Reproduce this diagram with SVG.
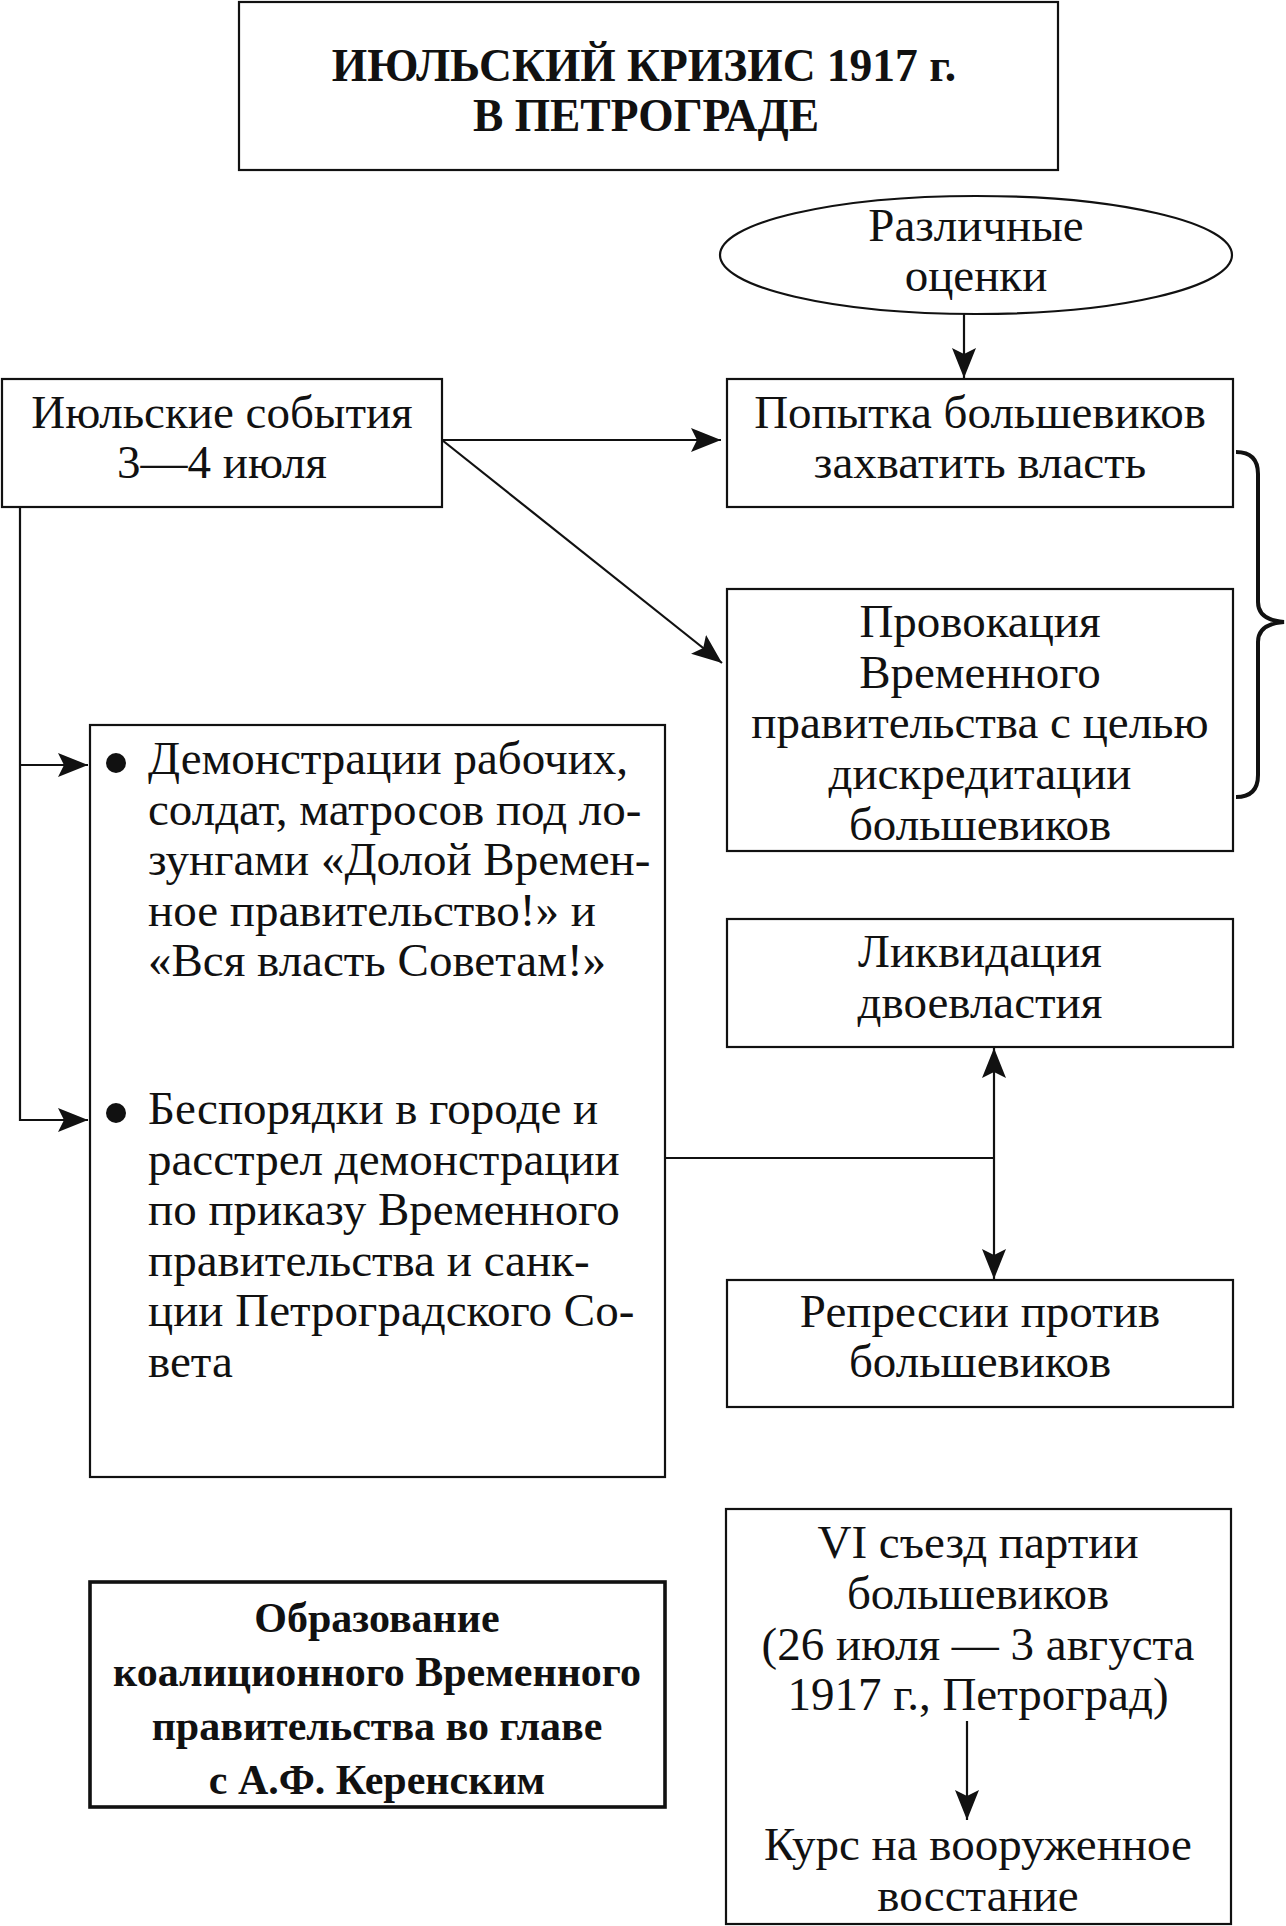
<svg xmlns="http://www.w3.org/2000/svg" width="1286" height="1926" viewBox="0 0 1286 1926">
<defs>
<style>
.box{fill:#fff;stroke:#111;stroke-width:2.2}
.bold-box{fill:#fff;stroke:#111;stroke-width:3.6}
.t{font-family:"Liberation Serif","Times New Roman",serif;font-size:47px;fill:#111}
.c{text-anchor:middle}
.b{font-family:"Liberation Serif","Times New Roman",serif;font-weight:bold;fill:#111;text-anchor:middle}
.ln{fill:none;stroke:#111;stroke-width:2.2}
</style>
<marker id="ah" markerUnits="userSpaceOnUse" markerWidth="30" markerHeight="24" refX="30" refY="12" orient="auto-start-reverse" viewBox="0 0 30 24">
<path d="M0,0 L30,12 L0,24 L6,12 z" fill="#111"/>
</marker>
</defs>
<rect x="0" y="0" width="1286" height="1926" fill="#fff"/>

<g id="title">
<rect class="box" x="239" y="2" width="819" height="168"/>
<text class="b" x="644" y="81" font-size="45.5">ИЮЛЬСКИЙ КРИЗИС 1917 г.</text>
<text class="b" x="646" y="131" font-size="45.5">В ПЕТРОГРАДЕ</text>
</g>

<g id="assessments">
<ellipse class="box" cx="976" cy="255" rx="256" ry="59" stroke-width="2.6"/>
<text class="t c" x="976" y="241">Различные</text>
<text class="t c" x="976" y="291">оценки</text>
</g>

<g id="july-events">
<rect class="box" x="2" y="379" width="440" height="128"/>
<text class="t c" x="222" y="428">Июльские события</text>
<text class="t c" x="222" y="478">3—4 июля</text>
</g>

<g id="attempt">
<rect class="box" x="727" y="379" width="506" height="128"/>
<text class="t c" x="980" y="428">Попытка большевиков</text>
<text class="t c" x="980" y="478">захватить власть</text>
</g>

<g id="provocation">
<rect class="box" x="727" y="589" width="506" height="262"/>
<text class="t c" x="980" y="637">Провокация</text>
<text class="t c" x="980" y="688">Временного</text>
<text class="t c" x="980" y="738">правительства с целью</text>
<text class="t c" x="980" y="789">дискредитации</text>
<text class="t c" x="980" y="840">большевиков</text>
</g>

<g id="brace">
<path d="M1236,452 Q1258,452 1258,474 L1258,602 Q1258,620 1284,622 Q1258,624 1258,642 L1258,775 Q1258,797 1236,797" fill="none" stroke="#111" stroke-width="4"/>
</g>

<g id="events-list">
<rect class="box" x="90" y="725" width="575" height="752"/>
<circle cx="116" cy="763" r="10" fill="#111"/>
<text class="t" x="148" y="774">Демонстрации рабочих,</text>
<text class="t" x="148" y="824.5">солдат, матросов под ло-</text>
<text class="t" x="148" y="875">зунгами «Долой Времен-</text>
<text class="t" x="148" y="925.5">ное правительство!» и</text>
<text class="t" x="148" y="976">«Вся власть Советам!»</text>
<circle cx="116" cy="1113" r="10" fill="#111"/>
<text class="t" x="148" y="1124">Беспорядки в городе и</text>
<text class="t" x="148" y="1174.5">расстрел демонстрации</text>
<text class="t" x="148" y="1225">по приказу Временного</text>
<text class="t" x="148" y="1275.5">правительства и санк-</text>
<text class="t" x="148" y="1326">ции Петроградского Со-</text>
<text class="t" x="148" y="1376.5">вета</text>
</g>

<g id="dual-power">
<rect class="box" x="727" y="919" width="506" height="128"/>
<text class="t c" x="980" y="967">Ликвидация</text>
<text class="t c" x="980" y="1018">двоевластия</text>
</g>

<g id="repressions">
<rect class="box" x="727" y="1280" width="506" height="127"/>
<text class="t c" x="980" y="1327">Репрессии против</text>
<text class="t c" x="980" y="1377">большевиков</text>
</g>

<g id="coalition">
<rect class="bold-box" x="90" y="1582" width="575" height="225"/>
<text class="b" x="377" y="1632" font-size="42">Образование</text>
<text class="b" x="377" y="1686" font-size="42">коалиционного Временного</text>
<text class="b" x="377" y="1740" font-size="42">правительства во главе</text>
<text class="b" x="377" y="1794" font-size="42">с А.Ф. Керенским</text>
</g>

<g id="congress">
<rect class="box" x="726" y="1509" width="505" height="415"/>
<text class="t c" x="978" y="1558">VI съезд партии</text>
<text class="t c" x="978" y="1609">большевиков</text>
<text class="t c" x="978" y="1660">(26 июля — 3 августа</text>
<text class="t c" x="978" y="1710">1917 г., Петроград)</text>
<text class="t c" x="978" y="1860">Курс на вооруженное</text>
<text class="t c" x="978" y="1911">восстание</text>
</g>

<g id="connectors">
<line class="ln" x1="964" y1="314" x2="964" y2="378" marker-end="url(#ah)"/>
<line class="ln" x1="442" y1="440" x2="721" y2="440" stroke-width="2.8" marker-end="url(#ah)"/>
<line class="ln" x1="442" y1="440" x2="722" y2="663" stroke-width="2.4" marker-end="url(#ah)"/>
<polyline class="ln" points="20,507 20,1120 88,1120" marker-end="url(#ah)"/>
<line class="ln" x1="20" y1="765" x2="88" y2="765" marker-end="url(#ah)"/>
<line class="ln" x1="665" y1="1158" x2="995" y2="1158" stroke-width="4.5"/>
<line class="ln" x1="994" y1="1048" x2="994" y2="1279" marker-start="url(#ah)" marker-end="url(#ah)"/>
<line class="ln" x1="967" y1="1721" x2="967" y2="1820" stroke-width="1.8" marker-end="url(#ah)"/>
</g>
</svg>
